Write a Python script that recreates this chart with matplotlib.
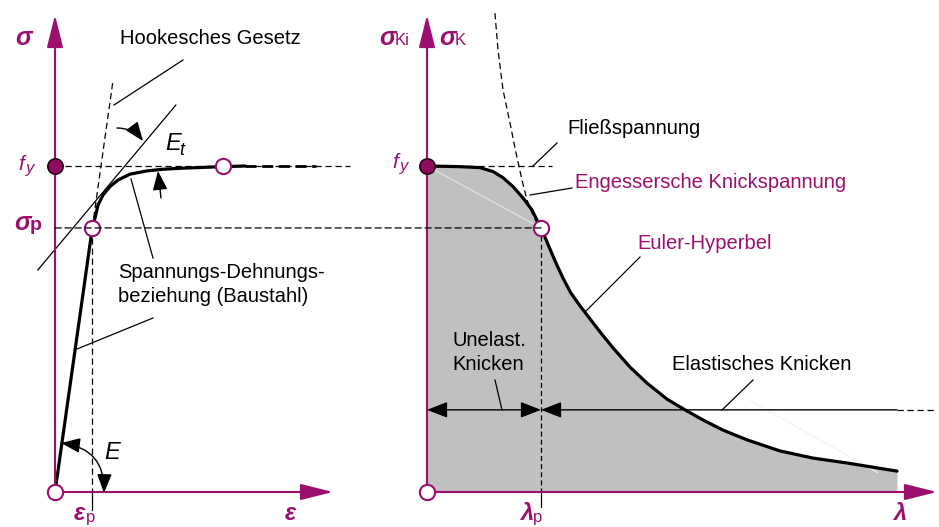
import matplotlib.pyplot as plt
from matplotlib.patches import FancyArrowPatch, ConnectionPatch
from matplotlib.lines import Line2D

W, H = 939, 527
MAG = '#9c0f6e'
GRAU = '#c0c0c0'
plt.rcParams['font.family'] = ['Liberation Sans', 'DejaVu Sans']

# Kennwerte (normiert): f_y = 1, eps_p = 1, lambda_p = 1
f_y = 1.0
sig_p = 0.81
eps_p = 1.0
eps_y = 4.5
lam_p = 1.0

# Spannungs-Dehnungs-Linie (Baustahl)
eps_kurve = [0.0, 1.0, 1.072, 1.153, 1.287, 1.475, 1.689, 2.011, 2.466, 2.895, 3.351, 4.477, 5.1]
sig_kurve = [0.0, 0.81, 0.840, 0.880, 0.911, 0.937, 0.957, 0.975, 0.985, 0.990, 0.993, 0.998, 1.0]
eps_fliess = [5.1, 7.0]          # Fliessplateau (gestrichelt)
eps_hooke = [1.0, 1.55]          # Hookesches Gesetz
sig_hooke = [0.81, 1.258]
eps_tang = [-0.46, 3.24]         # Tangente E_t
sig_tang = [0.681, 1.187]

# Knickspannungslinie
lam_kurve = [0.0, 0.289, 0.465, 0.579, 0.667, 0.754, 0.842, 0.921, 0.965, 1.0,
             1.035, 1.079, 1.132, 1.193, 1.263, 1.342, 1.430, 1.518, 1.632, 1.781, 1.930,
             2.105, 2.263, 2.421, 2.596, 2.807, 3.096, 3.386, 3.684, 4.123]
sigk_kurve = [1.0, 0.998, 0.995, 0.983, 0.964, 0.937, 0.902, 0.865, 0.834, 0.813,
              0.782, 0.745, 0.702, 0.656, 0.610, 0.571, 0.531, 0.491, 0.442, 0.383, 0.334,
              0.285, 0.252, 0.221, 0.190, 0.160, 0.126, 0.104, 0.089, 0.064]
# Euler-Hyperbel oberhalb lambda_p (gestrichelt)
lam_euler = [0.596, 0.623, 0.667, 0.728, 0.772, 0.833, 0.877, 0.921, 0.965, 1.0]
sig_euler = [1.469, 1.356, 1.233, 1.132, 1.055, 0.957, 0.896, 0.856, 0.825, 0.813]
sig_pfeil = 0.252
lam_ende = 4.123

# px -> Figurkoordinaten (nur Layout)
def P(x, y):
    return (x / W, 1 - y / H)

fig = plt.figure(figsize=(W / 100, H / 100), dpi=100)
SX_L, SX_R, SY = 37.3, 114.0, 326.0
axL = fig.add_axes([55 / W, 35 / H, 290 / W, 482 / H])
axR = fig.add_axes([427 / W, 35 / H, 512 / W, 482 / H])
axL.set_xlim(0, 290 / SX_L)
axR.set_xlim(0, 512 / SX_R)
for ax in (axL, axR):
    ax.set_ylim(0, 482 / SY)
    ax.axis('off')
    ax.patch.set_alpha(0)

ytop = 477 / SY
achse = dict(arrowstyle='-|>,head_length=1.0,head_width=0.25', mutation_scale=20,
             color=MAG, lw=1.5, shrinkA=0, shrinkB=0)
dash = (0, (5, 3))

# --- linkes Diagramm ---
axL.annotate('', xy=(0, ytop), xytext=(0, 0), arrowprops=achse, annotation_clip=False)
axL.annotate('', xy=(278 / SX_L, 0), xytext=(0, 0), arrowprops=achse, annotation_clip=False)
axL.plot([0, 295 / SX_L], [f_y, f_y], color='black', lw=0.9, ls=dash, clip_on=False)
axL.plot([eps_p, eps_p], [sig_p, 0], color='black', lw=0.9, ls=dash)
axL.plot([eps_p, eps_p], [0, -0.055], color='black', lw=0.9, clip_on=False)
axL.plot(eps_hooke, sig_hooke, color='black', lw=0.9, ls=dash)
axL.plot(eps_tang, sig_tang, color='black', lw=0.9, clip_on=False)
axL.plot(eps_kurve, sig_kurve, color='black', lw=2.3, solid_capstyle='round', solid_joinstyle='round')
axL.plot(eps_fliess, [f_y, f_y], color='black', lw=2.0, ls=(0, (4, 2)))
axL.plot([0], [0], 'o', ms=11, mfc='white', mec=MAG, mew=1.5, zorder=6, clip_on=False)
axL.plot([eps_p], [sig_p], 'o', ms=11, mfc='white', mec=MAG, mew=1.5, zorder=6)
axL.plot([eps_y], [f_y], 'o', ms=11, mfc='white', mec=MAG, mew=1.5, zorder=6)
axL.plot([0], [f_y], 'o', ms=11, mfc='#8e0a5e', mec='#2a0018', mew=1.2, zorder=6, clip_on=False)

# sigma_p Linie bis lambda_p
con = ConnectionPatch(xyA=(0, sig_p), coordsA=axL.transData, xyB=(lam_p, sig_p), coordsB=axR.transData,
                      color='black', lw=0.9, ls=dash)
fig.add_artist(con)

# --- rechtes Diagramm ---
axR.fill_between(lam_kurve, sigk_kurve, 0, color=GRAU, lw=0)
axR.plot([0, lam_p], [f_y, sig_p], color='#e6e6e6', lw=0.8)
axR.plot([2.84, 3.95], [0.28, 0.06], color='#f2f2f2', lw=0.8)
axR.annotate('', xy=(0, ytop), xytext=(0, 0), arrowprops=achse, annotation_clip=False)
axR.annotate('', xy=(510 / SX_R, 0), xytext=(0, 0), arrowprops=achse, annotation_clip=False)
axR.plot([0.36, 125 / SX_R], [f_y, f_y], color='black', lw=0.9, ls=dash)
axR.plot(lam_euler, sig_euler, color='black', lw=0.9, ls=dash, clip_on=False)
axR.plot([lam_p, lam_p], [sig_p, 0], color='black', lw=0.9, ls=(0, (4, 2.5)))
axR.plot([lam_p, lam_p], [0, -0.045], color='black', lw=0.9, clip_on=False)
axR.plot(lam_kurve, sigk_kurve, color='black', lw=2.3, solid_capstyle='round', solid_joinstyle='round')
axR.annotate('', xy=(0, sig_pfeil), xytext=(lam_p, sig_pfeil),
             arrowprops=dict(arrowstyle='<|-|>,head_length=0.9,head_width=0.35', mutation_scale=14,
                             color='black', lw=1.0, shrinkA=0, shrinkB=0))
axR.annotate('', xy=(lam_p, sig_pfeil), xytext=(lam_ende, sig_pfeil),
             arrowprops=dict(arrowstyle='-|>,head_length=0.9,head_width=0.35', mutation_scale=14,
                             color='black', lw=1.0, shrinkA=0, shrinkB=0))
axR.plot([lam_ende, 508 / SX_R], [sig_pfeil, sig_pfeil], color='black', lw=0.9, ls=dash, clip_on=False)
axR.plot([0], [0], 'o', ms=11, mfc='white', mec=MAG, mew=1.5, zorder=6, clip_on=False)
axR.plot([lam_p], [sig_p], 'o', ms=11, mfc='white', mec=MAG, mew=1.5, zorder=6)
axR.plot([0], [f_y], 'o', ms=11, mfc='#8e0a5e', mec='#2a0018', mew=1.2, zorder=6, clip_on=False)

# --- Hinweislinien ---
def linie(*pts, lw=0.9):
    xs = [P(*p)[0] for p in pts]
    ys = [P(*p)[1] for p in pts]
    fig.add_artist(Line2D(xs, ys, color='black', lw=lw))

linie((114, 105), (183, 60))
linie((131, 179), (153, 258))
linie((77, 349), (153, 318))
linie((533, 166), (557, 143))
linie((530, 195), (572, 188))
linie((585, 312), (640, 257))
linie((495, 380), (502, 410))
linie((722, 410), (753, 380))

def bogen(a, b, rad, style):
    fig.add_artist(FancyArrowPatch(P(*a), P(*b), transform=fig.transFigure,
                                   connectionstyle=f'arc3,rad={rad}', arrowstyle=style,
                                   mutation_scale=13, color='black', lw=1.0, shrinkA=0, shrinkB=0))

bogen((117, 128), (143, 141), -0.25, '-|>,head_length=0.9,head_width=0.35')
bogen((161, 198), (158, 171), 0.0, '-|>,head_length=0.9,head_width=0.35')
bogen((61, 443), (104, 493), -0.45, '<|-|>,head_length=0.9,head_width=0.35')

# --- Texte ---
def text(x, y, s, color='black', size=14.5):
    fig.text(*P(x, y), s, color=color, fontsize=size, va='center', ha='left')

text(120, 38, 'Hookesches Gesetz')
text(118, 273, 'Spannungs-Dehnungs-')
text(118, 296, 'beziehung (Baustahl)')
text(567, 128, 'Fließspannung')
text(575, 183, 'Engessersche Knickspannung', color=MAG)
text(637, 243, 'Euler-Hyperbel', color=MAG)
text(452, 340, 'Unelast.')
text(452, 365, 'Knicken')
text(672, 365, 'Elastisches Knicken')

def sym(x, y, haupt, index='', size=18, isize=12, farbe=MAG, bold=True, ibold=False,
        iitalic=False, dx=0, dy=0):
    fig.text(*P(x, y), haupt, color=farbe, fontsize=size, fontweight='bold' if bold else 'normal',
             fontstyle='italic', va='baseline', ha='left')
    if index:
        fig.text(*P(x + dx, y + dy), index, color=farbe, fontsize=isize, va='baseline', ha='left',
                 fontweight='bold' if ibold else 'normal', fontstyle='italic' if iitalic else 'normal')

sym(15, 45, 'σ')
sym(18, 170, 'f', 'y', size=15, isize=12, bold=False, iitalic=True, dx=8, dy=3)
sym(14, 230, 'σ', 'p', size=18, isize=14, ibold=True, dx=16, dy=0)
sym(74, 520, 'ε', 'p', size=17, isize=12, dx=12, dy=2)
sym(285, 520, 'ε', size=17)
sym(379, 45, 'σ', 'Ki', size=18, isize=12, dx=16, dy=0)
sym(439, 45, 'σ', 'K', size=18, isize=12, dx=16, dy=0)
sym(392, 168, 'f', 'y', size=15, isize=12, bold=False, iitalic=True, dx=8, dy=3)
sym(520, 520, 'λ', 'p', size=17, isize=12, dx=13, dy=2)
sym(893, 520, 'λ', size=17)
sym(165, 150, 'E', 't', size=17, isize=13, farbe='black', bold=False, iitalic=True, dx=14, dy=5)
sym(104, 459, 'E', size=17, farbe='black', bold=False)

fig.savefig('out.png', dpi=100)
